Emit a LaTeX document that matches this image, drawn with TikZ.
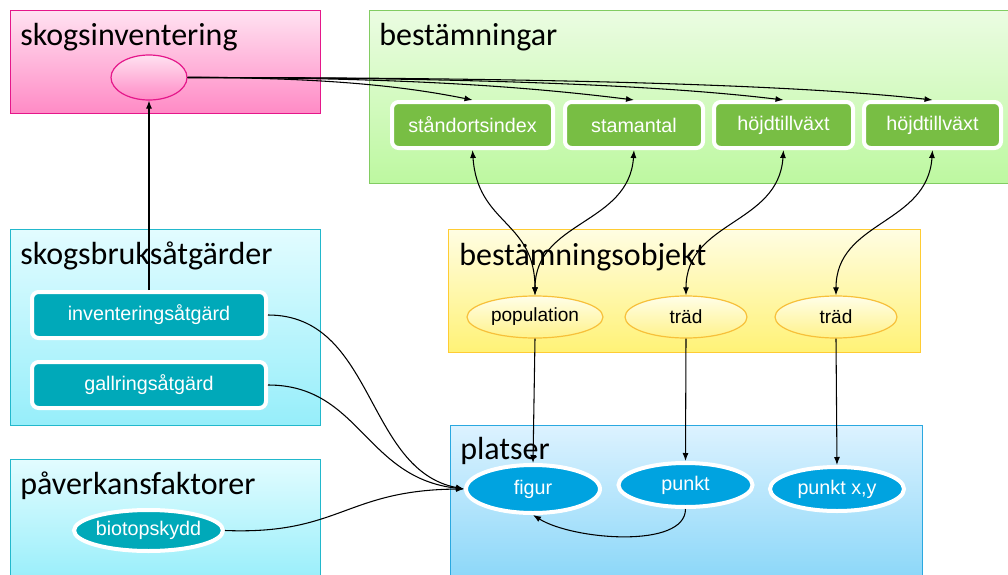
\documentclass[tikz,border=0pt]{standalone}
\usepackage{fontspec}
\setmainfont{Carlito}
\newfontfamily\arialf{Liberation Sans}
\usetikzlibrary{arrows.meta,shapes.geometric}
\definecolor{pinkTop}{HTML}{FFE2F1}
\definecolor{pinkBot}{HTML}{FF8AC5}
\definecolor{pinkLine}{HTML}{E5178A}
\definecolor{greenTop}{HTML}{EBFCE2}
\definecolor{greenBot}{HTML}{BDF8A0}
\definecolor{greenLine}{HTML}{82CC62}
\definecolor{greenFill}{HTML}{78BE44}
\definecolor{cyanTop}{HTML}{E2FCFF}
\definecolor{cyanBot}{HTML}{96EEFA}
\definecolor{cyanLine}{HTML}{22B8CC}
\definecolor{tealFill}{HTML}{00A9B9}
\definecolor{ylwTop}{HTML}{FFFDE2}
\definecolor{ylwBot}{HTML}{FFF276}
\definecolor{ylwLine}{HTML}{FFCC33}
\definecolor{ylwEllTop}{HTML}{FFFEE8}
\definecolor{ylwEllBot}{HTML}{FFF28A}
\definecolor{ylwEllLine}{HTML}{F7C03A}
\definecolor{blueTop}{HTML}{DCF2FF}
\definecolor{blueBot}{HTML}{88D6F8}
\definecolor{blueLine}{HTML}{2AA8E0}
\definecolor{blueFill}{HTML}{00A3E0}
\begin{document}
\begin{tikzpicture}[x=0.75pt,y=-0.75pt,
  group/.style={rectangle, inner sep=0pt, anchor=north west, line width=1.1pt},
  title/.style={anchor=base west, inner sep=0pt, font=\fontsize{24}{29}\selectfont},
  gbox/.style={rectangle, rounded corners=5pt, fill=greenFill, draw=white, line width=3pt,
     text=white, font=\arialf\fontsize{14.8}{17}\selectfont, minimum height=46*0.75pt, inner sep=0pt},
  tbox/.style={rectangle, rounded corners=5pt, fill=tealFill, draw=white, line width=3pt,
     text=white, font=\arialf\fontsize{14.8}{17}\selectfont, minimum height=46*0.75pt,
     minimum width=234*0.75pt, inner sep=0pt},
  tell/.style={ellipse, fill=tealFill, draw=white, line width=3pt, text=white,
     font=\arialf\fontsize{14.8}{17}\selectfont, inner sep=0pt},
  yell/.style={ellipse, top color=ylwEllTop, bottom color=ylwEllBot, draw=ylwEllLine, line width=0.9pt,
     font=\arialf\fontsize{14.3}{17}\selectfont, inner sep=0pt, minimum height=42*0.75pt},
  bell/.style={ellipse, fill=blueFill, draw=white, line width=3pt, text=white,
     font=\arialf\fontsize{14.8}{17}\selectfont, inner sep=0pt, minimum width=134*0.75pt},
  conn/.style={draw=black, line width=0.8pt, -{Latex[length=6pt,width=4.5pt]}},
  dconn/.style={draw=black, line width=0.8pt, {Latex[length=6pt,width=4.5pt]}-{Latex[length=6pt,width=4.5pt]}}
]
\useasboundingbox (0,0) rectangle (1008,575);

% group boxes
\node[group, top color=pinkTop, bottom color=pinkBot, draw=pinkLine,
  minimum width=310*0.75pt, minimum height=103*0.75pt] (si) at (10,10) {};
\node[group, top color=greenTop, bottom color=greenBot, draw=greenLine,
  minimum width=645*0.75pt, minimum height=173*0.75pt] (best) at (369,10) {};
\node[group, top color=cyanTop, bottom color=cyanBot, draw=cyanLine,
  minimum width=310*0.75pt, minimum height=196*0.75pt] (sba) at (10,229) {};
\node[group, top color=cyanTop, bottom color=cyanBot, draw=cyanLine,
  minimum width=310*0.75pt, minimum height=125*0.75pt] (pf) at (10,459) {};
\node[group, top color=ylwTop, bottom color=ylwBot, draw=ylwLine,
  minimum width=472*0.75pt, minimum height=123*0.75pt] (bo) at (448,229) {};
\node[group, top color=blueTop, bottom color=blueBot, draw=blueLine,
  minimum width=472*0.75pt, minimum height=160*0.75pt] (pl) at (450,425) {};

% titles
\node[title] (tsi) at (20,45) {skogsinventering};
\node[title] (tbest) at (379,45) {bestämningar};
\node[title] (tsba) at (20,264) {skogsbruksåtgärder};
\node[title] (tpf) at (20,494) {påverkansfaktorer};
\node[title] (tbo) at (459,265) {bestämningsobjekt};
\node[title] (tpl) at (460,459) {platser};

% inner nodes
\node[ellipse, top color=pinkTop, bottom color=pinkBot, draw=pinkLine, line width=0.9pt,
  minimum width=76*0.75pt, minimum height=45*0.75pt, inner sep=0pt] (pe) at (149,77.5) {};

\node[gbox, minimum width=161*0.75pt] (g1) at (472.5,125) {ståndortsindex};
\node[gbox, minimum width=138*0.75pt] (g2) at (634,125) {stamantal};
\node[gbox, minimum width=139*0.75pt] (g3) at (783.5,125) {höjdtillväxt};
\node[gbox, minimum width=137*0.75pt] (g4) at (932.5,125) {höjdtillväxt};

\node[tbox] (inv) at (149,315) {inventeringsåtgärd};
\node[tbox] (gall) at (149,385) {gallringsåtgärd};
\node[tell, minimum width=141*0.75pt, minimum height=41*0.75pt] (bio) at (148.5,530.5) {biotopskydd};

\node[yell, minimum width=136*0.75pt] (pop) at (535,317) {population};
\node[yell, minimum width=122*0.75pt] (tr1) at (686,317) {träd};
\node[yell, minimum width=122*0.75pt] (tr2) at (836,317) {träd};

\node[bell, minimum height=48*0.75pt] (fig) at (533,489) {figur};
\node[bell, minimum height=44*0.75pt] (pun) at (685.5,485) {punkt};
\node[bell, minimum height=44*0.75pt] (pxy) at (837,489) {punkt x,y};

% connectors
\draw[conn] (inv.north) -- (pe.south);
\draw[conn] (pe.east) .. controls +(150,0) and +(-60,-12) .. (g1.north);
\draw[conn] (pe.east) .. controls +(200,0) and +(-120,-15) .. (g2.north);
\draw[conn] (pe.east) .. controls +(240,0) and +(-140,-17) .. (g3.north);
\draw[conn] (pe.east) .. controls +(280,0) and +(-160,-18) .. (g4.north);

\draw[dconn] (g1.south) .. controls +(5,75) and +(0,-75) .. (pop.north);
\draw[dconn] (g2.south) .. controls +(-5,75) and +(0,-75) .. (pop.north);
\draw[dconn] (g3.south) .. controls +(-5,75) and +(0,-75) .. (tr1.north);
\draw[dconn] (g4.south) .. controls +(-5,75) and +(0,-75) .. (tr2.north);

\draw[conn] (pop.south) -- (fig.north);
\draw[conn] (tr1.south) -- (pun.north);
\draw[conn] (tr2.south) -- (pxy.north);
\draw[conn] (pun.south) .. controls +(0,40) and +(40,25) .. (fig.south);

\draw[conn] (inv.east) .. controls (375,315) and (365,470) .. (fig.west);
\draw[conn] (gall.east) .. controls (360,385) and (365,478) .. (fig.west);
\draw[conn] (bio.east) .. controls (340,535) and (345,490) .. (fig.west);
\end{tikzpicture}
\end{document}
